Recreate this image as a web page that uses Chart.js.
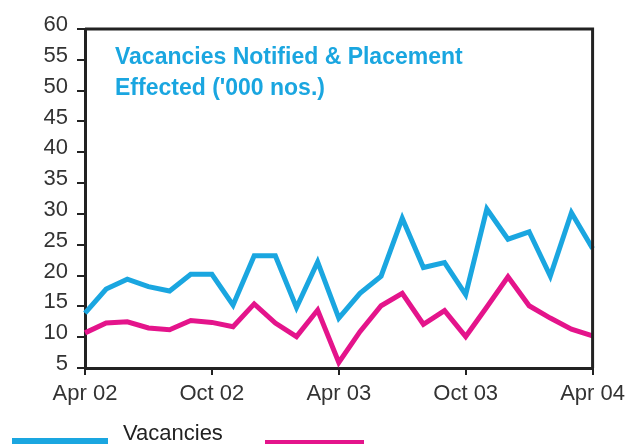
<!DOCTYPE html>
<html>
<head>
<meta charset="utf-8">
<script src="https://cdn.jsdelivr.net/npm/chart.js@4/dist/chart.umd.min.js"></script>
<style>
    html, body { margin: 0; padding: 0; background: #fff; }
    body { width: 631px; height: 444px; overflow: hidden; position: relative; font-family: "Liberation Sans", Arial, sans-serif; }
    #wrap { position: absolute; left: 0; top: 0; width: 631px; height: 444px; }
    .title { position: absolute; left: 115px; top: 41px; color: #1aa6e0; font-weight: bold; font-size: 23px; line-height: 31px; white-space: nowrap; }
    .swatch { position: absolute; height: 14px; }
    .legtext { position: absolute; font-size: 22px; line-height: 24px; color: #222; white-space: nowrap; }
</style>
</head>
<body>
<div id="wrap"><canvas id="chart" width="631" height="444"></canvas></div>
<div class="title">Vacancies Notified &amp; Placement<br>Effected ('000 nos.)</div>
<div class="swatch" style="left:12px; top:438px; width:96px; background:#1aa6e0;"></div>
<div class="legtext" style="left:123px; top:421px;">Vacancies<br>Notified</div>
<div class="swatch" style="left:265px; top:440px; width:99px; background:#e4148b;"></div>
<div class="legtext" style="left:378px; top:445px;">Placement<br>Effected</div>
<script>
    'use strict';

    const months = [
        'Apr 02', 'May 02', 'Jun 02', 'Jul 02', 'Aug 02', 'Sep 02', 'Oct 02', 'Nov 02', 'Dec 02',
        'Jan 03', 'Feb 03', 'Mar 03', 'Apr 03', 'May 03', 'Jun 03', 'Jul 03', 'Aug 03', 'Sep 03',
        'Oct 03', 'Nov 03', 'Dec 03', 'Jan 04', 'Feb 04', 'Mar 04', 'Apr 04'
    ];
    const tickLabels = ['Apr 02', 'Oct 02', 'Apr 03', 'Oct 03', 'Apr 04'];

    const vacancies = [13.9, 17.8, 19.4, 18.2, 17.5, 20.2, 20.2, 15.2, 23.2, 23.2, 14.8, 22.2, 13.1,
        17.1, 19.9, 29.3, 21.3, 22.1, 16.9, 30.8, 25.9, 27.1, 19.9, 30.2, 24.4];
    const placement = [10.7, 12.3, 12.5, 11.5, 11.2, 12.7, 12.4, 11.7, 15.4, 12.3, 10.1, 14.4, 5.9,
        10.9, 15.1, 17.1, 12.1, 14.3, 10.1, 14.9, 19.8, 15.1, 13.1, 11.3, 10.2];

    const cyan = '#1aa6e0';
    const magenta = '#e4148b';
    const ink = '#222';

    function isTick(index) {
        return tickLabels.indexOf(months[index]) !== -1;
    }

    // top and right edges of the plot box
    const frame = {
        id: 'frame',
        afterDraw: function (chart) {
            const a = chart.chartArea;
            const ctx = chart.ctx;
            ctx.save();
            ctx.strokeStyle = ink;
            ctx.lineWidth = 3;
            ctx.beginPath();
            ctx.moveTo(a.left, a.top);
            ctx.lineTo(a.right, a.top);
            ctx.lineTo(a.right, a.bottom);
            ctx.stroke();
            ctx.restore();
        }
    };

    new Chart(document.getElementById('chart'), {
        type: 'line',
        data: {
            labels: months,
            datasets: [
                { label: 'Vacancies Notified', data: vacancies, borderColor: cyan, backgroundColor: cyan },
                { label: 'Placement Effected', data: placement, borderColor: magenta, backgroundColor: magenta }
            ]
        },
        options: {
            responsive: false,
            animation: false,
            layout: { padding: { left: 0, right: 34, top: 29, bottom: 0 } },
            elements: {
                line: { borderWidth: 5, tension: 0, borderJoinStyle: 'miter', borderCapStyle: 'butt' },
                point: { radius: 0, hoverRadius: 0 }
            },
            plugins: {
                legend: { display: false },
                tooltip: { enabled: false }
            },
            scales: {
                x: {
                    offset: false,
                    afterFit: function (scale) { scale.height = 76; },
                    border: { display: true, color: ink, width: 3 },
                    grid: {
                        drawOnChartArea: false,
                        drawTicks: true,
                        tickLength: 7,
                        lineWidth: 2,
                        color: function (ctx) { return isTick(ctx.index) ? ink : 'rgba(0,0,0,0)'; }
                    },
                    ticks: {
                        autoSkip: false,
                        maxRotation: 0,
                        padding: 6,
                        color: '#333',
                        font: { family: '"Liberation Sans", Arial, sans-serif', size: 22 },
                        callback: function (value, index) { return isTick(index) ? months[index] : ''; }
                    }
                },
                y: {
                    min: 5,
                    max: 60,
                    afterFit: function (scale) { scale.width = 85; },
                    border: { display: true, color: ink, width: 3 },
                    grid: { drawOnChartArea: false, drawTicks: true, tickLength: 8, lineWidth: 2, color: ink },
                    ticks: {
                        stepSize: 5,
                        padding: 9,
                        labelOffset: -4,
                        color: '#333',
                        font: { family: '"Liberation Sans", Arial, sans-serif', size: 22 }
                    }
                }
            }
        },
        plugins: [frame]
    });
</script>
</body>
</html>
